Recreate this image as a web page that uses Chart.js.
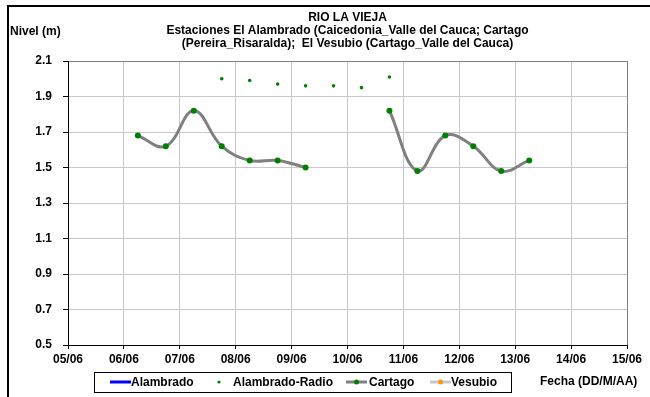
<!DOCTYPE html>
<html>
<head>
<meta charset="utf-8">
<script src="https://cdn.jsdelivr.net/npm/chart.js@4.4.1/dist/chart.umd.min.js"></script>
<style>
    html, body { margin: 0; padding: 0; background: #fff; }
    #wrap { width: 650px; height: 397px; position: relative; }
</style>
</head>
<body>
<div id="wrap"><canvas id="nivelChart" width="650" height="397"></canvas></div>
<script>
// Days of June (fractional = hour of day), level in metres
const dayTicks = ['05/06', '06/06', '07/06', '08/06', '09/06', '10/06', '11/06', '12/06', '13/06', '14/06', '15/06'];

const cartagoDays = [6.25, 6.75, 7.25, 7.75, 8.25, 8.75, 9.25, 10, 10.75, 11.25, 11.75, 12.25, 12.75, 13.25];
const cartagoLevel = [1.68, 1.62, 1.82, 1.62, 1.54, 1.54, 1.50, null, 1.82, 1.48, 1.68, 1.62, 1.48, 1.54];

const radioDays = [7.75, 8.25, 8.75, 9.25, 9.75, 10.25, 10.75];
const radioLevel = [2.00, 1.99, 1.97, 1.96, 1.96, 1.95, 2.01];

const alambradoDays = [];
const alambradoLevel = [];
const vesubioDays = [];
const vesubioLevel = [];

const titleLines = [
    'RIO LA VIEJA',
    'Estaciones El Alambrado (Caicedonia_Valle del Cauca; Cartago',
    '(Pereira_Risaralda);  El Vesubio (Cartago_Valle del Cauca)'
];

const FAMILY = '"Liberation Sans", Arial, sans-serif';
const FONT = 'bold 12px ' + FAMILY;

function toPoints(xs, ys) {
    return xs.map((x, i) => ({ x: x, y: ys[i] }));
}

// legend entries: where the swatch starts and where the text starts
const legendSwatchX = [110, 210, 346, 430];
const legendTextX = [131, 233, 369, 451];

// frame, title, axis captions and the boxed legend
const decorations = {
    id: 'decorations',
    afterDraw(chart) {
        const c = chart.ctx;
        const area = chart.chartArea;
        const mid = (area.left + area.right) / 2;
        c.save();

        c.strokeStyle = '#000';
        c.lineWidth = 2;
        c.beginPath();
        c.moveTo(8, 400);
        c.lineTo(8, 6);
        c.lineTo(660, 6);
        c.stroke();

        c.fillStyle = '#000';
        c.font = FONT;
        c.textAlign = 'center';
        c.textBaseline = 'middle';
        titleLines.forEach((t, i) => c.fillText(t, mid, 18 + i * 13));

        c.textAlign = 'left';
        c.fillText('Nivel (m)', 10, 32);
        c.fillText('Fecha (DD/M/AA)', 540, 382);

        // legend box
        c.lineWidth = 1;
        c.strokeStyle = '#000';
        c.strokeRect(94.5, 372.5, 417, 20);
        const ly = 382;
        chart.data.datasets.forEach((ds, i) => {
            const x = legendSwatchX[i];
            const hasLine = ds.showLine !== false;
            if (hasLine) {
                c.strokeStyle = ds.borderColor;
                c.lineWidth = 3;
                c.beginPath();
                c.moveTo(x, ly);
                c.lineTo(x + 21, ly);
                c.stroke();
            }
            if (ds.pointRadius > 0) {
                c.fillStyle = ds.pointBackgroundColor;
                c.beginPath();
                c.arc(hasLine ? x + 10.5 : x + 9, ly, hasLine ? 2.5 : 1.6, 0, Math.PI * 2);
                c.fill();
            }
            c.fillStyle = '#000';
            c.fillText(ds.label, legendTextX[i], ly + 1);
        });
        c.restore();
    }
};

const gridColor = (ctx) => (ctx.index === ctx.scale.ticks.length - 1 ? '#808080' : '#c8c8c8');

const chart = new Chart(document.getElementById('nivelChart'), {
    type: 'line',
    data: {
        datasets: [
            {
                label: 'Alambrado',
                data: toPoints(alambradoDays, alambradoLevel),
                borderColor: '#0000ff',
                pointBackgroundColor: '#0000ff',
                pointRadius: 0,
                borderWidth: 2
            },
            {
                label: 'Alambrado-Radio',
                data: toPoints(radioDays, radioLevel),
                showLine: false,
                borderColor: '#008000',
                pointBackgroundColor: '#008000',
                pointBorderWidth: 0,
                pointRadius: 1.8
            },
            {
                label: 'Cartago',
                data: toPoints(cartagoDays, cartagoLevel),
                borderColor: '#808080',
                borderWidth: 3,
                tension: 0.4,
                spanGaps: false,
                pointBackgroundColor: '#008000',
                pointBorderColor: '#008000',
                pointBorderWidth: 0,
                pointRadius: 3
            },
            {
                label: 'Vesubio',
                data: toPoints(vesubioDays, vesubioLevel),
                borderColor: '#c8c8c8',
                pointBackgroundColor: '#ff9900',
                pointRadius: 3,
                borderWidth: 3
            }
        ]
    },
    options: {
        responsive: false,
        animation: false,
        layout: {
            padding: { top: 61, right: 23, left: 0, bottom: 0 }
        },
        plugins: {
            legend: { display: false },
            title: { display: false },
            tooltip: { enabled: false }
        },
        scales: {
            x: {
                type: 'linear',
                min: 5,
                max: 15,
                afterFit(s) { s.height = 52; },
                afterBuildTicks(s) {
                    s.ticks = dayTicks.map((t, i) => ({ value: 5 + i }));
                },
                ticks: {
                    color: '#000',
                    font: { family: FAMILY, size: 12, weight: 'bold' },
                    padding: 3,
                    maxRotation: 0,
                    autoSkip: false,
                    callback: (v, i) => dayTicks[i]
                },
                grid: {
                    color: gridColor,
                    tickColor: '#000',
                    tickLength: 4,
                    lineWidth: 1
                },
                border: { color: '#000', width: 1 }
            },
            y: {
                type: 'linear',
                min: 0.5,
                max: 2.1,
                afterFit(s) { s.width = 68; },
                ticks: {
                    stepSize: 0.2,
                    color: '#000',
                    font: { family: FAMILY, size: 12, weight: 'bold' },
                    padding: 11,
                    callback: (v) => v.toFixed(1)
                },
                grid: {
                    color: gridColor,
                    tickColor: '#000',
                    tickLength: 5,
                    lineWidth: 1
                },
                border: { color: '#000', width: 1 }
            }
        }
    },
    plugins: [decorations]
});
</script>
</body>
</html>
